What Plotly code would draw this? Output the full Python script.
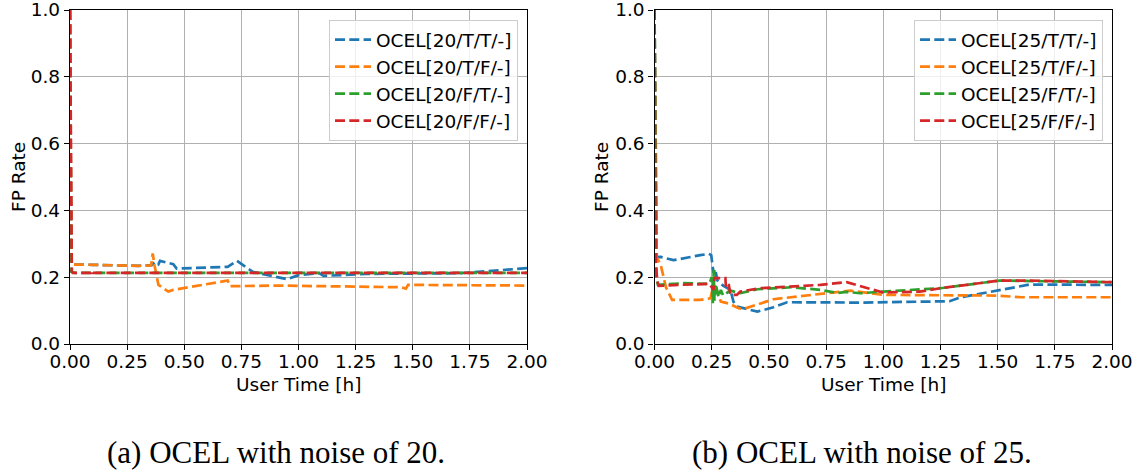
import plotly.graph_objects as go

# ---- Noise 20 runs: user time [h] vs. false-positive rate ----
t20_tt = [0, 0.005, 0.1, 0.2, 0.30, 0.357, 0.372, 0.387, 0.394, 0.452, 0.467, 0.69, 0.73, 0.80, 0.95, 1.0, 1.09, 1.11, 1.3, 1.71, 2.0]
fp20_tt = [1.0, 0.238, 0.237, 0.235, 0.234, 0.236, 0.246, 0.239, 0.249, 0.239, 0.226, 0.231, 0.249, 0.216, 0.194, 0.206, 0.212, 0.204, 0.210, 0.212, 0.227]

t20_tf = [0, 0.005, 0.1, 0.2, 0.30, 0.355, 0.362, 0.37, 0.387, 0.43, 0.452, 0.69, 0.70, 0.90, 1.2, 1.45, 1.47, 1.48, 2.0]
fp20_tf = [1.0, 0.238, 0.237, 0.235, 0.234, 0.235, 0.271, 0.235, 0.177, 0.157, 0.162, 0.190, 0.173, 0.175, 0.172, 0.170, 0.166, 0.177, 0.175]

t20_ft = [0, 0.006, 0.02, 0.5, 1.0, 1.5, 2.0]
fp20_ft = [1.0, 0.216, 0.213, 0.213, 0.213, 0.213, 0.213]

t20_ff = [0, 0.008, 0.012, 0.09, 0.095, 0.10, 0.5, 1.0, 1.5, 2.0]
fp20_ff = [1.0, 0.218, 0.213, 0.213, 0.221, 0.213, 0.213, 0.213, 0.213, 0.213]

# ---- Noise 25 runs ----
t25_tt = [0, 0.01, 0.026, 0.083, 0.2, 0.237, 0.248, 0.252, 0.255, 0.258, 0.265, 0.275, 0.30, 0.332, 0.345, 0.36, 0.45, 0.52, 0.58, 0.9, 1.29, 1.34, 1.64, 2.0]
fp25_tt = [1.0, 0.26, 0.261, 0.251, 0.266, 0.27, 0.266, 0.242, 0.24, 0.212, 0.225, 0.19, 0.175, 0.162, 0.127, 0.112, 0.097, 0.11, 0.125, 0.124, 0.128, 0.14, 0.178, 0.177]

t25_tf = [0, 0.008, 0.026, 0.05, 0.077, 0.2, 0.245, 0.252, 0.256, 0.26, 0.27, 0.29, 0.33, 0.367, 0.39, 0.42, 0.49, 0.52, 0.70, 0.856, 1.0, 1.5, 1.6, 2.0]
fp25_tf = [1.0, 0.26, 0.24, 0.17, 0.132, 0.132, 0.137, 0.16, 0.2, 0.15, 0.165, 0.127, 0.12, 0.107, 0.105, 0.112, 0.127, 0.134, 0.148, 0.16, 0.147, 0.145, 0.14, 0.14]

t25_ft = [0, 0.008, 0.015, 0.127, 0.24, 0.25, 0.255, 0.259, 0.262, 0.268, 0.28, 0.29, 0.30, 0.33, 0.375, 0.45, 0.6, 0.725, 0.8, 0.84, 0.9, 1.0, 1.25, 1.51, 2.0]
fp25_ft = [1.0, 0.2, 0.177, 0.182, 0.18, 0.2, 0.122, 0.222, 0.13, 0.18, 0.14, 0.162, 0.145, 0.16, 0.152, 0.164, 0.17, 0.162, 0.153, 0.156, 0.152, 0.157, 0.167, 0.19, 0.185]

t25_ff = [0, 0.005, 0.012, 0.018, 0.11, 0.24, 0.259, 0.262, 0.267, 0.31, 0.312, 0.317, 0.325, 0.332, 0.36, 0.375, 0.46, 0.725, 0.84, 0.88, 1.0, 1.16, 1.25, 1.51, 1.64, 2.0]
fp25_ff = [1.0, 0.25, 0.19, 0.174, 0.177, 0.18, 0.162, 0.2, 0.197, 0.197, 0.172, 0.182, 0.177, 0.147, 0.147, 0.157, 0.167, 0.177, 0.185, 0.177, 0.154, 0.157, 0.167, 0.19, 0.19, 0.185]

names20 = ["OCEL[20/T/T/-]", "OCEL[20/T/F/-]", "OCEL[20/F/T/-]", "OCEL[20/F/F/-]"]
names25 = ["OCEL[25/T/T/-]", "OCEL[25/T/F/-]", "OCEL[25/F/T/-]", "OCEL[25/F/F/-]"]
colors = ["#1f77b4", "#ff7f0e", "#2ca02c", "#d62728"]

x_ticks = [0, 0.25, 0.5, 0.75, 1.0, 1.25, 1.5, 1.75, 2.0]
y_ticks = [0.0, 0.2, 0.4, 0.6, 0.8, 1.0]
captions = ["(a) OCEL with noise of 20.", "(b) OCEL with noise of 25."]
x_title = "User Time [h]"
y_title = "FP Rate"

FONT = "DejaVu Sans"
FS = 18.5
W, H = 1138, 472

# fixed margins so both panels sit exactly where wanted
ML, MR, MT, MB = 70, 26, 10, 128
PW, PH = W - ML - MR, H - MT - MB


def px_x(px):
    return (px - ML) / PW


def px_y(py):
    return (H - MB - py) / PH


fig = go.Figure()

series20 = [(t20_tt, fp20_tt), (t20_tf, fp20_tf), (t20_ft, fp20_ft), (t20_ff, fp20_ff)]
series25 = [(t25_tt, fp25_tt), (t25_tf, fp25_tf), (t25_ft, fp25_ft), (t25_ff, fp25_ff)]

line_style = dict(width=2.7, dash="10px,4.3px")

for (xs, ys), name, c in zip(series20, names20, colors):
    fig.add_trace(go.Scatter(x=xs, y=ys, mode="lines", name=name,
                             line=dict(color=c, **line_style),
                             xaxis="x", yaxis="y", legend="legend"))
for (xs, ys), name, c in zip(series25, names25, colors):
    fig.add_trace(go.Scatter(x=xs, y=ys, mode="lines", name=name,
                             line=dict(color=c, **line_style),
                             xaxis="x2", yaxis="y2", legend="legend2"))

tick_font = dict(family=FONT, size=FS, color="black")
axis_common = dict(showgrid=True, gridcolor="#b0b0b0", gridwidth=1.2,
                   showline=True, linecolor="black", linewidth=1.3, mirror=True,
                   ticks="outside", ticklen=5, tickwidth=1.3, tickcolor="black",
                   zeroline=False, tickfont=tick_font, automargin=False,
                   ticklabeloverflow="allow")
common_x = dict(range=[0, 2], tickvals=x_ticks, tickformat=".2f",
                ticklabelstandoff=-4, **axis_common)
common_y = dict(range=[0, 1], tickvals=y_ticks, tickformat=".1f", **axis_common)

legend_common = dict(font=dict(family=FONT, size=FS, color="black"),
                     bgcolor="rgba(255,255,255,0.8)", bordercolor="#cccccc", borderwidth=1,
                     xanchor="right", yanchor="top", tracegroupgap=0, itemwidth=36)

fig.update_layout(
    width=W, height=H,
    margin=dict(l=ML, r=MR, t=MT, b=MB, autoexpand=False),
    paper_bgcolor="white", plot_bgcolor="white",
    showlegend=True,
    xaxis=dict(domain=[px_x(70), px_x(527)], anchor="y", **common_x),
    yaxis=dict(domain=[0, 1], anchor="x", **common_y),
    xaxis2=dict(domain=[px_x(654.5), px_x(1112)], anchor="y2", **common_x),
    yaxis2=dict(domain=[0, 1], anchor="x2", **common_y),
    legend=dict(x=px_x(518), y=px_y(20), **legend_common),
    legend2=dict(x=px_x(1103), y=px_y(20), **legend_common),
)

title_font = dict(family=FONT, size=FS, color="black")
for cx in (298.5, 883):
    fig.add_annotation(text=x_title, x=px_x(cx), y=px_y(384), xref="paper", yref="paper",
                       xanchor="center", yanchor="middle", showarrow=False, font=title_font)
for cx in (18, 601):
    fig.add_annotation(text=y_title, x=px_x(cx), y=px_y(177), xref="paper", yref="paper",
                       xanchor="center", yanchor="middle", showarrow=False, textangle=-90,
                       font=title_font)

for cap, cx in zip(captions, [276, 862]):
    fig.add_annotation(text=cap, x=px_x(cx), y=px_y(452), xref="paper", yref="paper",
                       xanchor="center", yanchor="middle", showarrow=False,
                       font=dict(family="Liberation Serif", size=31, color="black"))

fig.write_html("out.html")
